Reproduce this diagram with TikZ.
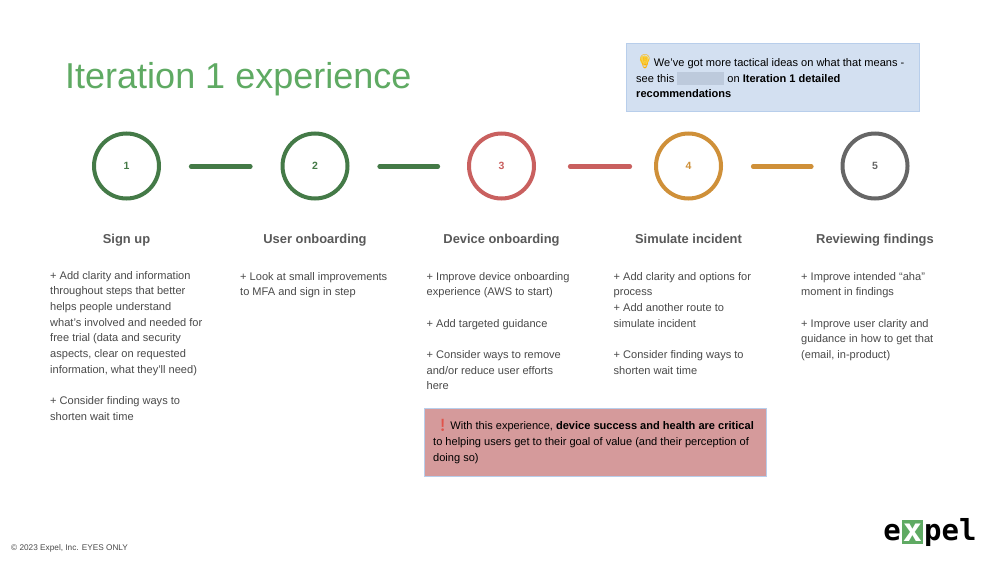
\documentclass[tikz,border=0pt]{standalone}
\usepackage{fontspec}
\setmainfont{Liberation Sans}
\newfontfamily\emojifont{Noto Emoji}
\newfontfamily\logofont{DejaVu Sans Mono}
\definecolor{cgreen}{HTML}{447A47}
\definecolor{cred}{HTML}{C9605F}
\definecolor{corange}{HTML}{CF9039}
\definecolor{cgrey}{HTML}{666666}
\definecolor{ctitle}{HTML}{5FAA63}
\definecolor{chead}{HTML}{595959}
\definecolor{cbody}{HTML}{4A4A4A}
\definecolor{cblue}{HTML}{D3E0F1}
\definecolor{cblueb}{HTML}{B8CEEB}
\definecolor{cpink}{HTML}{D59A9B}
\definecolor{credact}{HTML}{BDCADC}
\definecolor{cbulb}{HTML}{F6D24A}
\definecolor{cbang}{HTML}{E0534A}
\tikzset{
  x=1pt,y=-1pt,
  stepcircle/.style={circle,draw=#1,line width=4pt,minimum size=65pt,inner sep=0pt,outer sep=0pt,text=#1,font=\bfseries\fontsize{10.5}{12}\selectfont},
  link/.style={draw=#1,line width=4.2pt,line cap=round},
  head/.style={anchor=base,text=chead,font=\fontsize{12.9}{14}\selectfont\bfseries},
  body/.style={anchor=north west,align=left,inner sep=0pt,text=cbody,font=\fontsize{11.05}{15.65}\selectfont},
  callout/.style={draw=cblueb,line width=0.7pt,anchor=north west,inner sep=0pt},
  calltext/.style={anchor=north west,align=left,inner sep=0pt,text=black,font=\fontsize{11.05}{15.65}\selectfont},
  logotext/.style={anchor=base,inner sep=0pt,font=\logofont\bfseries\fontsize{29}{30}\selectfont},
}
\begin{document}
\begin{tikzpicture}
\useasboundingbox (0,0) rectangle (1000,562);
\fill[white] (0,0) rectangle (1000,562);
\node[anchor=west,inner sep=0pt,text=ctitle,font=\fontsize{36}{40}\selectfont] (title) at (65,79) {Iteration 1 experience};
% callout top
\node[callout,fill=cblue,minimum width=293pt,minimum height=67.5pt] (tip) at (626,43) {};
\fill[cbulb] (644.5,60) circle (4.6pt);
\node[calltext] (tiptext) at (636,54.5) {{\emojifont\fontsize{14}{14}\selectfont\textcolor{orange!60!yellow}{💡}}We’ve got more tactical ideas on what that means -\\see this \textcolor{credact}{\rule[-3pt]{47pt}{13.5pt}} on \textbf{Iteration 1 detailed}\\\textbf{recommendations}};
% steps
\node[stepcircle=cgreen] (c1) at (126.5,166) {1};
\node[stepcircle=cgreen] (c2) at (315,166) {2};
\node[stepcircle=cred] (c3) at (501.5,166) {3};
\node[stepcircle=corange] (c4) at (688.5,166) {4};
\node[stepcircle=cgrey] (c5) at (875,166) {5};
\draw[link=cgreen,shorten <=32pt,shorten >=32pt] ([yshift=-0.5pt]c1.east) -- ([yshift=-0.5pt]c2.west);
\draw[link=cgreen,shorten <=32pt,shorten >=31pt] ([yshift=-0.5pt]c2.east) -- ([yshift=-0.5pt]c3.west);
\draw[link=cred,shorten <=36pt,shorten >=26pt] ([yshift=-0.5pt]c3.east) -- ([yshift=-0.5pt]c4.west);
\draw[link=corange,shorten <=32pt,shorten >=31pt] ([yshift=-0.5pt]c4.east) -- ([yshift=-0.5pt]c5.west);
% headings
\node[head] (h1) at (126.5,243.5) {Sign up};
\node[head] (h2) at (315,243.5) {User onboarding};
\node[head] (h3) at (501.5,243.5) {Device onboarding};
\node[head] (h4) at (688.5,243.5) {Simulate incident};
\node[head] (h5) at (875,243.5) {Reviewing findings};
% bodies
\node[body] (b1) at (50,271) {+ Add clarity and information\\throughout steps that better\\helps people understand\\what’s involved and needed for\\free trial (data and security\\aspects, clear on requested\\information, what they’ll need)\\[15.65pt]+ Consider finding ways to\\shorten wait time};
\node[body] (b2) at (240,272) {+ Look at small improvements\\to MFA and sign in step};
\node[body] (b3) at (426.5,272) {+ Improve device onboarding\\experience (AWS to start)\\[15.65pt]+ Add targeted guidance\\[15.65pt]+ Consider ways to remove\\and/or reduce user efforts\\here};
\node[body] (b4) at (613.5,272) {+ Add clarity and options for\\process\\+ Add another route to\\simulate incident\\[15.65pt]+ Consider finding ways to\\shorten wait time};
\node[body] (b5) at (801,272) {+ Improve intended “aha”\\moment in findings\\[15.65pt]+ Improve user clarity and\\guidance in how to get that\\(email, in-product)};
% callout bottom
\node[callout,fill=cpink,minimum width=342pt,minimum height=68pt] (warn) at (423.5,408) {};
\node[calltext] (warntext) at (433,419.5) {{\emojifont\fontsize{12}{12}\selectfont\textcolor{cbang}{\,❗}}With this experience, \textbf{device success and health are critical}\\to helping users get to their goal of value (and their perception of\\doing so)};
% footer
\node[anchor=west,inner sep=0pt,text=cbody,font=\fontsize{8.25}{9}\selectfont] (foot) at (11,548) {© 2023 Expel, Inc. EYES ONLY};
% logo
\fill[ctitle] (902,520) rectangle (923,544);
\node[logotext,text=white,font=\logofont\bfseries\fontsize{32}{32}\selectfont] (logox) at (912.5,541) {x};
\node[logotext,text=black] (logoe) at (892,540) {e};
\node[logotext,anchor=base west,text=black] (logop) at (924,540) {pel};
\end{tikzpicture}
\end{document}
